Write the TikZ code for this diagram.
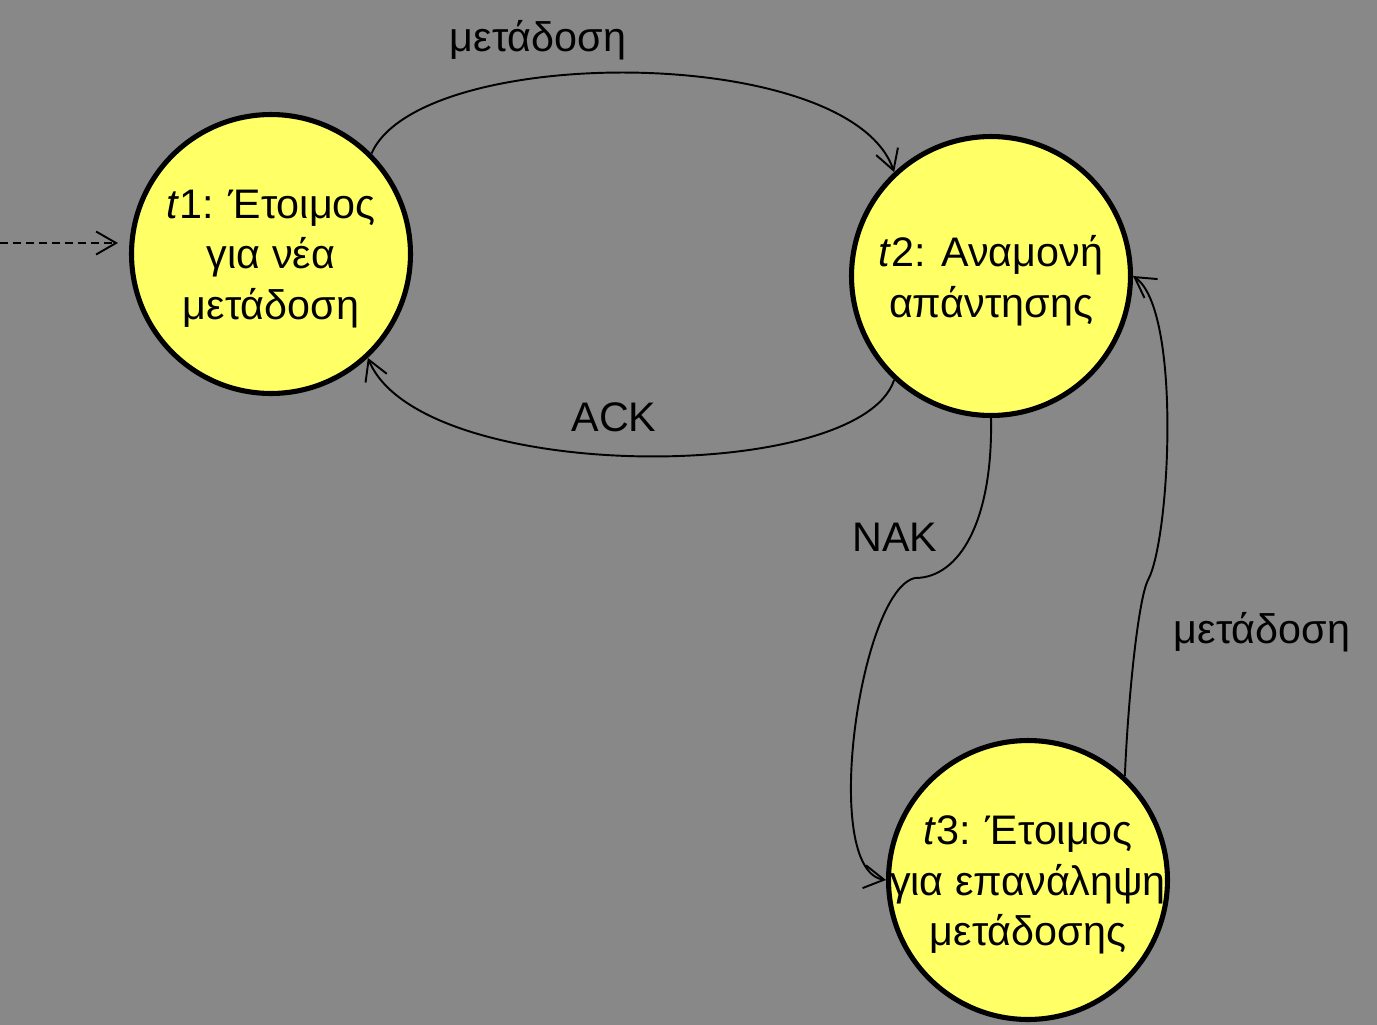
\documentclass[tikz,border=0pt]{standalone}
\usepackage{fontspec}
\setmainfont{Liberation Sans}
\usetikzlibrary{arrows.meta}
\definecolor{stbg}{HTML}{888888}
\definecolor{stfill}{HTML}{FFFF66}

\begin{document}
\begin{tikzpicture}[
  x=0.02cm, y=-0.02cm,
  font=\fontsize{23.5}{28.5}\selectfont,
  state/.style={circle, draw=black, line width=2.9pt, fill=stfill,
                minimum size=5.58cm, inner sep=0pt},
  statetext/.style={align=center, inner sep=0pt, yshift=-0.1cm,
                    font=\fontsize{23.5}{28.8}\selectfont},
  link/.style={line width=1.1pt,
               -{Straight Barb[length=0.4cm, width=0.46cm, line width=1.1pt]}},
  lbl/.style={inner sep=0pt},
]
  \fill[stbg] (0,0) rectangle (1377,1025);
  \useasboundingbox (0,0) rectangle (1377,1025);

  % ---- states -------------------------------------------------------------
  \node[state] (t1) at (271,254) {};
  \node[statetext] (t1text) at (t1.center) {\textit{t}1: Έτοιμος\\για νέα\\μετάδοση};
  \node[state] (t2) at (991,276) {};
  \node[statetext] (t2text) at (t2.center) {\textit{t}2: Αναμονή\\απάντησης};
  \node[state] (t3) at (1028,880) {};
  \node[statetext] (t3text) at (t3.center) {\textit{t}3: Έτοιμος\\για επανάληψη\\μετάδοσης};

  % ---- initial arrow --------------------------------------------------------
  \coordinate (entry) at (0,243);
  \coordinate (entryend) at (118,243);
  \draw[link, dash pattern=on 0.16cm off 0.1cm] (entry) -- (entryend);

  % ---- transitions ----------------------------------------------------------
  \draw[link] (t1.45) .. controls (420,43) and (850,43) .. (t2.133);
  \node[lbl] (lsend) at (538,40) {μετάδοση};

  \draw[link] (t2.227) .. controls (860,485) and (420,485) .. (t1.313);
  \node[lbl] (lack) at (614,417) {ACK};

  \coordinate (nakbend) at (915,578);
  \draw[link] (t2.south) .. controls (993,520) and (960,578) .. (nakbend)
    .. controls (860,590) and (820,870) .. (t3.west);
  \node[lbl] (lnak) at (895,537) {NAK};

  \coordinate (rebend) at (1148,580);
  \draw[link] (t3.47) .. controls (1128,700) and (1138,600) .. (rebend)
    .. controls (1170,540) and (1182,310) .. (t2.east);
  \node[lbl] (lresend) at (1262,632) {μετάδοση};
\end{tikzpicture}
\end{document}
